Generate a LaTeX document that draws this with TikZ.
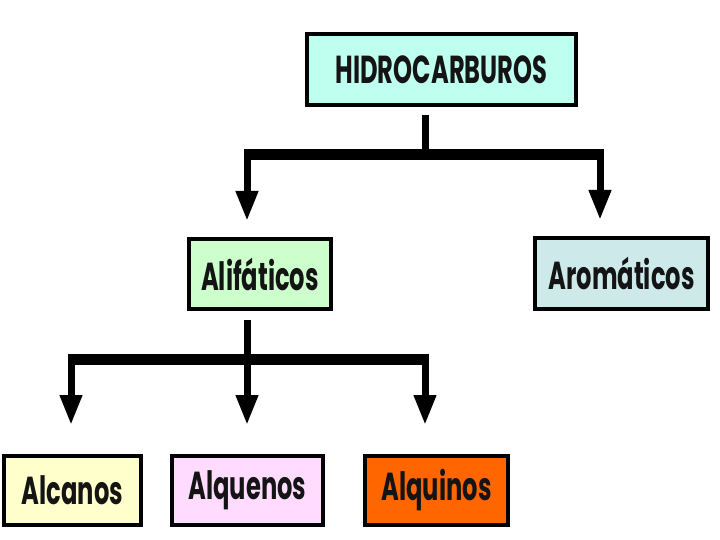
\documentclass[tikz,border=0pt]{standalone}
\usepackage{fontspec}
\setmainfont{Poppins}[FakeStretch=0.62]
\usetikzlibrary{arrows.meta, positioning}

\definecolor{hidrofill}{RGB}{190,255,240}
\definecolor{aliffill}{RGB}{204,255,204}
\definecolor{aromfill}{RGB}{205,233,234}
\definecolor{alcfill}{RGB}{255,255,204}
\definecolor{alqnfill}{RGB}{255,220,255}
\definecolor{alqfill}{RGB}{255,102,0}

\begin{document}
\begin{tikzpicture}[
  x=1pt, y=-1pt,
  font=\fontsize{39}{44}\selectfont\bfseries,
  box/.style={
    draw=black,
    line width=4pt,
    inner sep=0pt,
    text=black!92,
    align=center
  },
  stem/.style={
    draw=black,
    line width=7pt
  },
  bar/.style={
    draw=black,
    line width=11pt
  },
  arrow/.style={
    draw=black,
    line width=7pt,
    shorten <=-5.5pt,
    -{Triangle[length=30pt, width=21pt]}
  }
]
\useasboundingbox (0,0) rectangle (720,540);

% Top
\node[box, fill=hidrofill, minimum width=269pt, minimum height=71pt] (hidro) at (441.5,69.5)
{HIDROCARBUROS};

% Row 1
\node[box, fill=aliffill, minimum width=142pt, minimum height=70pt] (alif) at (260,274)
{Alifáticos};

\node[box, fill=aromfill, minimum width=173pt, minimum height=71pt] (arom) at (621.5,273.5)
{Aromáticos};

% Row 2
\node[box, fill=alcfill, minimum width=137pt, minimum height=69pt] (alcanos) at (72.5,490.5)
{Alcanos};

\node[box, fill=alqnfill, minimum width=151pt, minimum height=69pt] (alquenos) at (247.5,490.5)
{Alquenos};

\node[box, fill=alqfill, minimum width=143pt, minimum height=69pt] (alquinos) at (436.5,490.5)
{Alquinos};

% Split points
\coordinate (hsplit) at (425,155);
\coordinate (alifin) at (247,155);
\coordinate (aromin) at (600,155);

\coordinate (lsplit) at (247,359);
\coordinate (alcin) at (71,359);
\coordinate (alqin) at (425,359);

% Arrows row 1
\draw[stem] ([yshift=-8pt]hidro.south -| hsplit) -- (hsplit);
\draw[bar] (alifin) -- (aromin);
\draw[arrow, shorten >=16pt] (alifin) -- (alifin |- alif.north);
\draw[arrow, shorten >=16pt] (aromin) -- (aromin |- arom.north);

% Arrows row 2
\draw[stem] ([yshift=-9pt]alif.south -| lsplit) -- (lsplit);
\draw[bar] (alcin) -- (alqin);
\draw[arrow, shorten >=29pt] (alcin) -- (alcin |- alcanos.north);
\draw[arrow, shorten >=29pt] (lsplit) -- (lsplit |- alquenos.north);
\draw[arrow, shorten >=29pt] (alqin) -- (alqin |- alquinos.north);

\end{tikzpicture}
\end{document}
